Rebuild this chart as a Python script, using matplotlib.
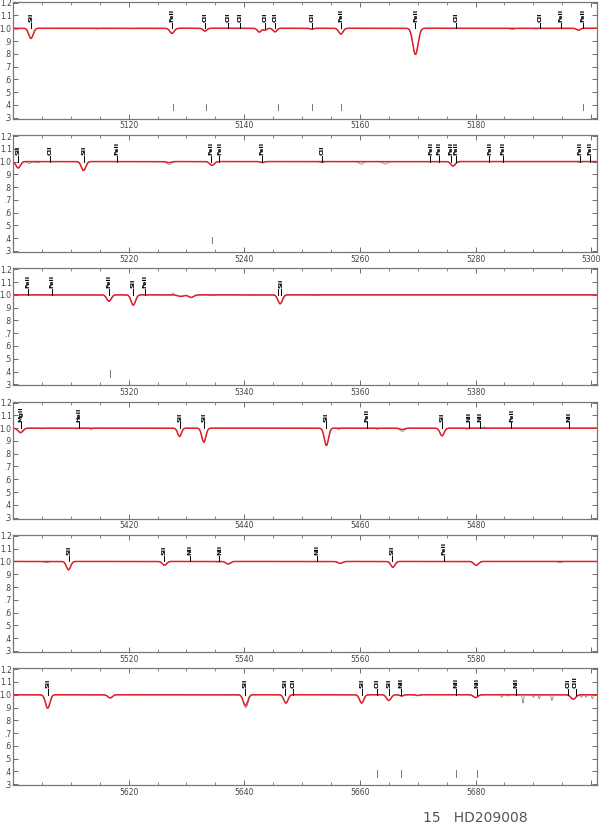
import numpy as np
import matplotlib.pyplot as plt
from matplotlib.ticker import MultipleLocator, FuncFormatter

# panel start wavelengths (each panel spans ~101 A)
starts = [5100, 5200, 5300, 5400, 5500, 5600]

# line identifications: (label, wavelength); empty label = connector only
p1_ids = [("SII", 5103.1), ("FeII", 5127.5), ("CII", 5133.2), ("CII", 5137.2), ("CII", 5139.3),
          ("CII", 5143.6), ("CII", 5145.3), ("CII", 5151.7), ("FeII", 5156.7), ("FeII", 5169.6),
          ("CII", 5176.6), ("CII", 5191.2), ("FeII", 5194.8), ("FeII", 5198.6)]
p2_ids = [("SII", 5200.9), ("CII", 5206.4), ("SII", 5212.2), ("FeII", 5218.0), ("FeII", 5234.3),
          ("FeII", 5235.7), ("FeII", 5243.1), ("CII", 5253.4), ("FeII", 5272.2), ("FeII", 5273.6),
          ("FeII", 5275.7), ("FeII", 5276.6), ("FeII", 5282.4), ("FeII", 5284.8), ("FeII", 5298.0),
          ("FeII", 5299.8)]
p3_ids = [("FeII", 5302.6), ("FeII", 5306.8), ("FeII", 5316.6), ("SII", 5320.8), ("FeII", 5322.8),
          ("", 5345.8), ("SII", 5346.3)]
p4_ids = [("MgII", 5401.3), ("HeII", 5411.4), ("SII", 5428.8), ("SII", 5433.0), ("SII", 5454.2),
          ("FeII", 5461.2), ("SII", 5474.2), ("NII", 5478.8), ("NII", 5480.8), ("FeII", 5486.2),
          ("NII", 5496.2)]
p5_ids = [("SII", 5509.6), ("SII", 5526.2), ("NII", 5530.6), ("NII", 5535.7), ("NII", 5552.5),
          ("SII", 5565.6), ("FeII", 5574.5)]
p6_ids = [("SII", 5606.0), ("SII", 5640.1), ("SII", 5647.1), ("CII", 5648.4), ("SII", 5660.3),
          ("CII", 5662.9), ("SII", 5665.1), ("NII", 5667.1), ("NII", 5676.6), ("NII", 5680.2),
          ("NII", 5687.0), ("CII", 5696.0), ("CIII", 5697.3)]

# model (red) absorption features: (wavelength, depth, width)
p1_red = [(5103.1, 0.08, 0.38), (5127.5, 0.04, 0.38), (5133.2, 0.022, 0.33), (5142.6, 0.03, 0.33),
          (5143.6, 0.015, 0.28), (5145.3, 0.028, 0.33), (5151.7, 0.008, 0.3), (5156.7, 0.045, 0.38),
          (5169.6, 0.205, 0.45), (5197.8, 0.015, 0.33)]
p2_red = [(5200.9, 0.05, 0.38), (5212.2, 0.07, 0.38), (5227.0, 0.008, 0.4), (5234.4, 0.03, 0.38),
          (5243.1, 0.008, 0.3), (5276.1, 0.035, 0.38)]
p3_red = [(5316.6, 0.05, 0.38), (5320.8, 0.08, 0.38), (5329.0, 0.012, 0.5), (5330.8, 0.02, 0.45),
          (5346.2, 0.07, 0.38)]
p4_red = [(5401.3, 0.035, 0.42), (5428.8, 0.065, 0.33), (5433.0, 0.11, 0.35), (5454.2, 0.135, 0.36),
          (5467.3, 0.01, 0.4), (5474.2, 0.06, 0.36)]
p5_red = [(5509.6, 0.065, 0.36), (5526.2, 0.03, 0.36), (5537.2, 0.02, 0.38), (5556.6, 0.015, 0.4),
          (5565.7, 0.045, 0.36), (5580.1, 0.03, 0.4)]
p6_red = [(5606.0, 0.105, 0.38), (5616.8, 0.025, 0.38), (5640.2, 0.085, 0.38), (5647.2, 0.065, 0.36),
          (5660.3, 0.065, 0.36), (5665.0, 0.045, 0.38), (5667.2, 0.01, 0.3), (5670.0, 0.006, 0.3),
          (5680.0, 0.022, 0.38), (5696.9, 0.035, 0.42)]

# extra features only in the observed (grey) spectrum
p1_grey = [(5100.6, 0.012, 0.3), (5106.0, 0.004, 0.4), (5114.5, 0.005, 0.4), (5120.5, 0.004, 0.4),
           (5186.3, 0.01, 0.4), (5190.5, 0.006, 0.3)]
p2_grey = [(5202.8, 0.015, 0.3), (5204.2, 0.01, 0.3), (5227.0, 0.015, 0.4), (5253.4, 0.01, 0.3),
           (5260.2, 0.02, 0.35), (5264.4, 0.02, 0.4), (5298.0, 0.006, 0.3)]
p3_grey = [(5327.7, -0.012, 0.15), (5334.3, 0.006, 0.3), (5342.0, 0.006, 0.3), (5352.0, 0.004, 0.4)]
p4_grey = [(5405.0, 0.005, 0.3), (5411.0, 0.006, 0.3), (5413.5, 0.01, 0.2), (5456.3, 0.01, 0.2),
           (5463.0, 0.01, 0.2), (5467.3, 0.015, 0.4), (5478.5, 0.008, 0.3), (5481.5, -0.01, 0.2)]
p5_grey = [(5505.8, 0.01, 0.3), (5535.5, 0.005, 0.3), (5594.6, 0.008, 0.3)]
p6_grey = [(5640.5, 0.025, 0.3), (5684.5, 0.02, 0.15), (5685.6, 0.01, 0.15), (5688.2, 0.065, 0.12),
           (5690.0, 0.02, 0.12), (5691.0, 0.03, 0.12), (5693.2, 0.045, 0.12), (5698.3, 0.02, 0.12),
           (5699.1, 0.02, 0.12), (5700.2, 0.03, 0.12)]

# short markers near the bottom of the panels
p1_marks = [5127.7, 5133.3, 5145.9, 5151.7, 5156.7, 5198.6]
p2_marks = [5234.5]
p3_marks = [5316.7]
p4_marks = []
p5_marks = []
p6_marks = [5663.0, 5667.1, 5676.6, 5680.2]

panels = [(p1_ids, p1_red, p1_grey, p1_marks), (p2_ids, p2_red, p2_grey, p2_marks),
          (p3_ids, p3_red, p3_grey, p3_marks), (p4_ids, p4_red, p4_grey, p4_marks),
          (p5_ids, p5_red, p5_grey, p5_marks), (p6_ids, p6_red, p6_grey, p6_marks)]


def profile(wl, feats):
    flux = np.ones_like(wl)
    for c, d, s in feats:
        flux *= 1 - d * np.exp(-0.5 * ((wl - c) / s) ** 2)
    return flux


def ylab(v, pos):
    s = "%.1f" % v
    return s[1:] if s.startswith("0") else s


fig = plt.figure(figsize=(6, 8.24), dpi=100)
W, H = 600.0, 824.0

for i, (s, (ids, red, grey, marks)) in enumerate(zip(starts, panels)):
    top = 1.7 + 133.3 * i
    bot = 118.7 + 133.3 * i
    ax = fig.add_axes([13 / W, 1 - bot / H, 584 / W, (bot - top) / H])

    wl = np.linspace(s - 1, s + 102, 5000)
    model = profile(wl, red)
    obs = model * profile(wl, grey)
    ax.plot(wl, obs, color="#8c8c8c", lw=0.6)
    ax.plot(wl, model, color="#e0202a", lw=1.1)

    for name, w in ids:
        ax.plot([w, w], [1.0, 1.045], color="black", lw=0.7)
        if name:
            ax.text(w, 1.05, name, rotation=90, ha="center", va="bottom",
                    fontsize=4.6, fontweight="bold", color="black")
    for w in marks:
        ax.plot([w, w], [0.36, 0.41], color="#777777", lw=0.7)

    ax.set_xlim(s, s + 101)
    ax.set_ylim(0.292, 1.208)
    ax.xaxis.set_major_locator(MultipleLocator(20))
    ax.xaxis.set_minor_locator(MultipleLocator(5))
    ax.yaxis.set_major_locator(MultipleLocator(0.1))
    ax.yaxis.set_major_formatter(FuncFormatter(ylab))
    last = s + 100 if s == 5200 else s + 80
    ax.xaxis.set_major_formatter(FuncFormatter(
        lambda v, p, s=s, last=last: "%d" % v if s + 1 < v <= last + 0.5 else ""))
    ax.tick_params(axis="both", which="both", direction="in", top=True, right=True,
                   labelsize=5.5, labelcolor="#444444", color="#555555", pad=2)
    ax.tick_params(axis="both", which="major", length=3.5, width=0.6)
    ax.tick_params(axis="both", which="minor", length=2, width=0.5)
    ax.tick_params(axis="y", pad=1)
    for sp in ax.spines.values():
        sp.set_color("#777777")
        sp.set_linewidth(0.9)

fig.text(423 / W, 1 - 818 / H, "15   HD209008", fontsize=10, color="#555555",
         ha="left", va="center")

plt.savefig("out.png", dpi=100)
